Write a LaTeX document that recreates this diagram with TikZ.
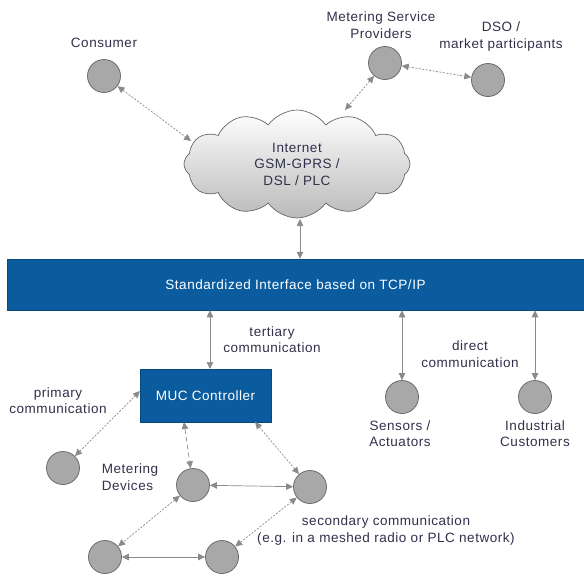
\documentclass[tikz,border=0pt]{standalone}
\usepackage{fontspec}
\setmainfont{Liberation Sans}[LetterSpace=4]
\usetikzlibrary{arrows.meta,shapes.symbols,calc}
\definecolor{barblue}{HTML}{0B5C9E}
\definecolor{linegray}{HTML}{8A8A8A}
\definecolor{nodegray}{HTML}{A8A8A8}
\definecolor{nodeedge}{HTML}{6C6C6C}
\definecolor{txt}{HTML}{30304A}
\begin{document}
\begin{tikzpicture}[x=1pt,y=-1pt,
  every node/.style={font=\fontsize{13.5}{16.5}\selectfont, text=txt},
  dev/.style={circle, minimum size=33pt, inner sep=0pt, fill=nodegray, draw=nodeedge, line width=0.8pt},
  lbl/.style={align=center, inner sep=0pt},
  link/.style={draw=linegray, line width=0.7pt, {Triangle[length=7pt,width=6.5pt]}-{Triangle[length=7pt,width=6.5pt]}},
  fine/.style={link, dash pattern=on 2pt off 1.5pt},
  coarse/.style={link, dash pattern=on 5pt off 3pt},
  bluebox/.style={fill=barblue, draw=barblue!80!black, line width=0.5pt, inner sep=0pt, text=white}
]
\useasboundingbox (0,0) rectangle (584,576);

% cloud
\node[cloud, cloud puffs=12, cloud puff arc=110, aspect=2.1, minimum width=226pt, minimum height=108pt,
  draw=gray!80!black, line width=0.7pt, top color=white, bottom color=black!27, align=center, inner sep=0pt]
  (cloud) at (297,164) {Internet\\GSM-GPRS /\\DSL / PLC};

% bar and controller
\node[bluebox, minimum width=577pt, minimum height=51pt] (bar) at (295.5,284.5) {Standardized Interface based on TCP/IP};
\node[bluebox, minimum width=131pt, minimum height=53pt] (muc) at (205.5,395.5) {MUC Controller};

% circles
\node[dev] (cons) at (104,76) {};
\node[dev] (msp) at (385,63) {};
\node[dev] (dso) at (488,80) {};
\node[dev] (sens) at (402,397) {};
\node[dev] (ind) at (535,397) {};
\node[dev] (prim) at (63,468) {};
\node[dev] (devA) at (193,485) {};
\node[dev] (devB) at (310,487) {};
\node[dev] (devC) at (105,557) {};
\node[dev] (devD) at (222,557) {};

% labels
\node[lbl] (lcons) at (104,43) {Consumer};
\node[lbl] (lmsp) at (381,25) {Metering Service\\Providers};
\node[lbl] (ldso) at (501,36.5) {DSO /\\market participants};
\node[lbl] (lter) at (272,339.5) {tertiary\\communication};
\node[lbl] (ldir) at (470,354) {direct\\communication};
\node[lbl] (lprim) at (58,400.5) {primary\\communication};
\node[lbl, align=left] (lmet) at (130,477) {Metering\\Devices};
\node[lbl] (lsens) at (400,433.5) {Sensors /\\Actuators};
\node[lbl] (lind) at (535,433.5) {Industrial\\Customers};
\node[lbl] (lsec) at (386,530.5) {secondary communication\\(e.g. in a meshed radio or PLC network)};

% connector end points
\coordinate (cA) at (191,141);
\coordinate (cB) at (345,110);
\coordinate (cC) at (300,219);
\coordinate (tT) at (210,369);
\coordinate (mA) at (184,422);
\coordinate (mB) at (255,422);
\coordinate (mP) at (140,391);

% connectors
\draw[fine] (cons) -- (cA);
\draw[fine] (msp) -- (cB);
\draw[fine] (msp) -- (dso);
\draw[link] (cC) -- (cC |- bar.north);
\draw[link] (tT) -- (tT |- bar.south);
\draw[link] (sens.north) -- (sens.north |- bar.south);
\draw[link] (ind.north) -- (ind.north |- bar.south);
\draw[fine] (prim) -- (mP);
\draw[coarse] (mA) -- (devA);
\draw[fine] (mB) -- (devB);
\draw[link] (devA) -- (devB);
\draw[link] (devC) -- (devD);
\draw[fine] (devA) -- (devC);
\draw[fine] (devB) -- (devD);
\end{tikzpicture}
\end{document}
